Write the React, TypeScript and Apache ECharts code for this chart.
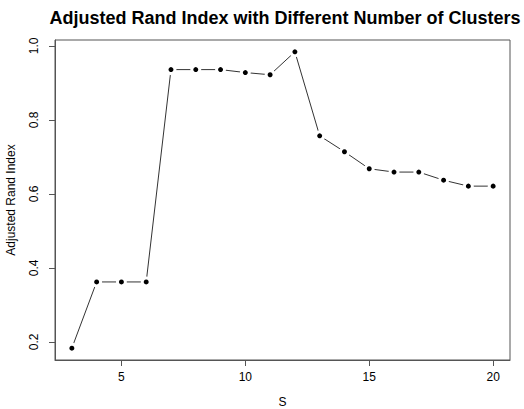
import React, { useEffect, useRef } from "react";
import * as echarts from "echarts";

const sValues = [3, 4, 5, 6, 7, 8, 9, 10, 11, 12, 13, 14, 15, 16, 17, 18, 19, 20];
const ariValues = [0.183, 0.362, 0.362, 0.362, 0.936, 0.936, 0.936, 0.928, 0.922, 0.984, 0.757, 0.714, 0.668, 0.659, 0.659, 0.637, 0.621, 0.621];
const xTicks = [5, 10, 15, 20];
const yTicks = [0.2, 0.4, 0.6, 0.8, 1.0];

const FONT = "'Liberation Sans', Arial, sans-serif";

export default function App() {
  const ref = useRef<HTMLDivElement>(null);
  useEffect(() => {
    if (!ref.current) return;
    const chart = echarts.init(ref.current, null, { renderer: "svg" });
    const data = sValues.map((s, i) => [s, ariValues[i]]);
    chart.setOption({
      animation: false,
      backgroundColor: "#ffffff",
      textStyle: { fontFamily: FONT },
      title: {
        text: "Adjusted Rand Index with Different Number of Clusters",
        left: 280,
        textAlign: "center",
        top: 4,
        textStyle: { fontFamily: FONT, fontSize: 18, fontWeight: "bold", color: "#000" },
      },
      grid: { left: 55, right: 14, top: 40, bottom: 49, containLabel: false, outerBoundsMode: "none" },
      xAxis: {
        type: "value",
        min: 2.32,
        max: 20.68,
        name: "S",
        nameLocation: "middle",
        nameGap: 36,
        nameTextStyle: { fontFamily: FONT, fontSize: 12, color: "#000" },
        axisLine: { show: true, onZero: false, lineStyle: { color: "#555", width: 1 } },
        axisTick: { show: true, length: 6, customValues: xTicks, lineStyle: { color: "#555" } },
        axisLabel: { customValues: xTicks, margin: 11, fontSize: 12, color: "#000", fontFamily: FONT },
        splitLine: { show: false },
      },
      yAxis: {
        type: "value",
        min: 0.151,
        max: 1.016,
        name: "Adjusted Rand Index",
        nameLocation: "middle",
        nameGap: 38,
        nameTextStyle: { fontFamily: FONT, fontSize: 12, color: "#000" },
        axisLine: { show: true, onZero: false, lineStyle: { color: "#555", width: 1 } },
        axisTick: { show: true, length: 6, customValues: yTicks, lineStyle: { color: "#555" } },
        axisLabel: {
          customValues: yTicks,
          rotate: 90,
          margin: 15,
          fontSize: 12,
          color: "#000",
          fontFamily: FONT,
          formatter: (v: number) => v.toFixed(1),
        },
        splitLine: { show: false },
      },
      graphic: [
        {
          type: "rect",
          shape: { x: 55, y: 40, width: 455, height: 320 },
          style: { fill: "none", stroke: "#555", lineWidth: 1 },
          silent: true,
        },
      ],
      series: [
        {
          type: "line",
          data,
          symbol: "circle",
          symbolSize: 8,
          lineStyle: { color: "#333", width: 1 },
          itemStyle: { color: "#000", borderColor: "#fff", borderWidth: 3 },
        },
      ],
    });
    return () => chart.dispose();
  }, []);
  return <div ref={ref} style={{ position: "absolute", left: 0, top: 0, width: 524, height: 409 }} />;
}
